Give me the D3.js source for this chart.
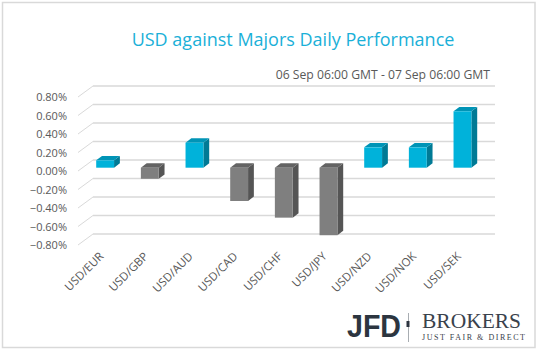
<!DOCTYPE html>
<html><head><meta charset="utf-8">
<script src="https://cdn.jsdelivr.net/npm/d3@7"></script>
<style>
html,body{margin:0;padding:0;background:#fff;}
svg{display:block;}
</style></head>
<body>
<script>
const categories = ["USD/EUR","USD/GBP","USD/AUD","USD/CAD","USD/CHF","USD/JPY","USD/NZD","USD/NOK","USD/SEK"];
const values = [0.08,-0.12,0.27,-0.36,-0.54,-0.73,0.22,0.22,0.61];
const yTicks = [0.8,0.6,0.4,0.2,0,-0.2,-0.4,-0.6,-0.8];
const title = "USD against Majors Daily Performance";
const subtitle = "06 Sep 06:00 GMT - 07 Sep 06:00 GMT";

const W = 538, H = 351;
const SANS = '"Open Sans",sans-serif';
const SERIF = '"Liberation Serif","DejaVu Serif",serif';
const svg = d3.select("body").append("svg").attr("width", W).attr("height", H)
  .style("font-family", SANS);

// border
svg.append("rect").attr("x",2.5).attr("y",2.5).attr("width",532.5).attr("height",345)
  .attr("fill","#fff").attr("stroke","#d9d9d9").attr("stroke-width",1.5);

// scales (back wall)
const y = d3.scaleLinear().domain([-0.8,0.8]).range([234,86]);
const x = d3.scaleBand().domain(categories).range([93,495]).paddingInner(0.6).paddingOuter(0.3);

// floor depth offset (back -> front)
const DX = -15, DY = 11;
// bar front face offset from back wall
const FX = -10.2, FY = 7.7;
// bar depth (front -> back)
const BX = 5.8, BY = -4.4;

// gridlines
const g = svg.append("g");
yTicks.forEach(t => {
  g.append("line").attr("x1",93).attr("x2",495).attr("y1",y(t)).attr("y2",y(t))
    .attr("stroke","#d9d9d9").attr("stroke-width",1.5);
  g.append("line").attr("x1",93+DX).attr("y1",y(t)+DY).attr("x2",93).attr("y2",y(t))
    .attr("stroke","#d9d9d9").attr("stroke-width",1);
  g.append("text").attr("x",67).attr("y",y(t)+DY+4).attr("text-anchor","end")
    .attr("font-size",11).attr("fill","#595959").text(d3.format(".2%")(t/100));
});

// bars
const colors = {
  pos:{front:"#00b2da", side:"#007a95", top:"#0094b6"},
  neg:{front:"#7f7f7f", side:"#555555", top:"#636363"}
};
const bars = svg.append("g");
categories.forEach((c,i) => {
  const v = values[i];
  const col = v >= 0 ? colors.pos : colors.neg;
  const x0 = x(c) + FX, x1 = x0 + x.bandwidth();
  const yt = Math.min(y(v), y(0)) + FY, yb = Math.max(y(v), y(0)) + FY;
  bars.append("path").attr("d",`M${x1},${yt}L${x1+BX},${yt+BY}L${x1+BX},${yb+BY}L${x1},${yb}Z`).attr("fill",col.side);
  bars.append("path").attr("d",`M${x0},${yt}L${x0+BX},${yt+BY}L${x1+BX},${yt+BY}L${x1},${yt}Z`).attr("fill",col.top);
  bars.append("rect").attr("x",x0).attr("y",yt).attr("width",x.bandwidth()).attr("height",yb-yt).attr("fill",col.front);
});

// category labels
const lab = svg.append("g");
categories.forEach(c => {
  const cx = x(c) + x.bandwidth()/2 + DX + 4;
  const cy = y(-0.8) + DY + 12;
  lab.append("text").attr("transform",`translate(${cx},${cy}) rotate(-45)`)
    .attr("text-anchor","end").attr("font-size",11.5).attr("fill","#595959").text(c);
});

// title
svg.append("text").attr("x",293).attr("y",46).attr("text-anchor","middle")
  .attr("font-size",18).attr("fill","#1ab0d8").text(title);
svg.append("text").attr("x",490).attr("y",79).attr("text-anchor","end")
  .attr("font-size",12.2).attr("fill","#595959").text(subtitle);

// logo
const logo = svg.append("g");
logo.append("text").attr("x",347).attr("y",337).attr("font-size",32).attr("font-weight","bold")
  .style("font-family",'"Liberation Sans",sans-serif').attr("fill","#2c3540")
  .attr("textLength",54).attr("lengthAdjust","spacingAndGlyphs").text("JFD");
logo.append("rect").attr("x",408).attr("y",313).attr("width",1).attr("height",29).attr("fill","#a8adb2");
logo.append("rect").attr("x",406.5).attr("y",321).attr("width",3).attr("height",6).attr("fill","#2c3540");
logo.append("text").attr("x",422).attr("y",327.5).attr("font-size",21.5)
  .style("font-family",SERIF).attr("fill","#3a424c")
  .attr("textLength",99).attr("lengthAdjust","spacingAndGlyphs").text("BROKERS");
logo.append("text").attr("x",422).attr("y",339.5).attr("font-size",8)
  .style("font-family",SERIF).attr("fill","#3a424c")
  .attr("textLength",103).attr("lengthAdjust","spacing").text("JUST FAIR & DIRECT");
</script>
</body></html>
